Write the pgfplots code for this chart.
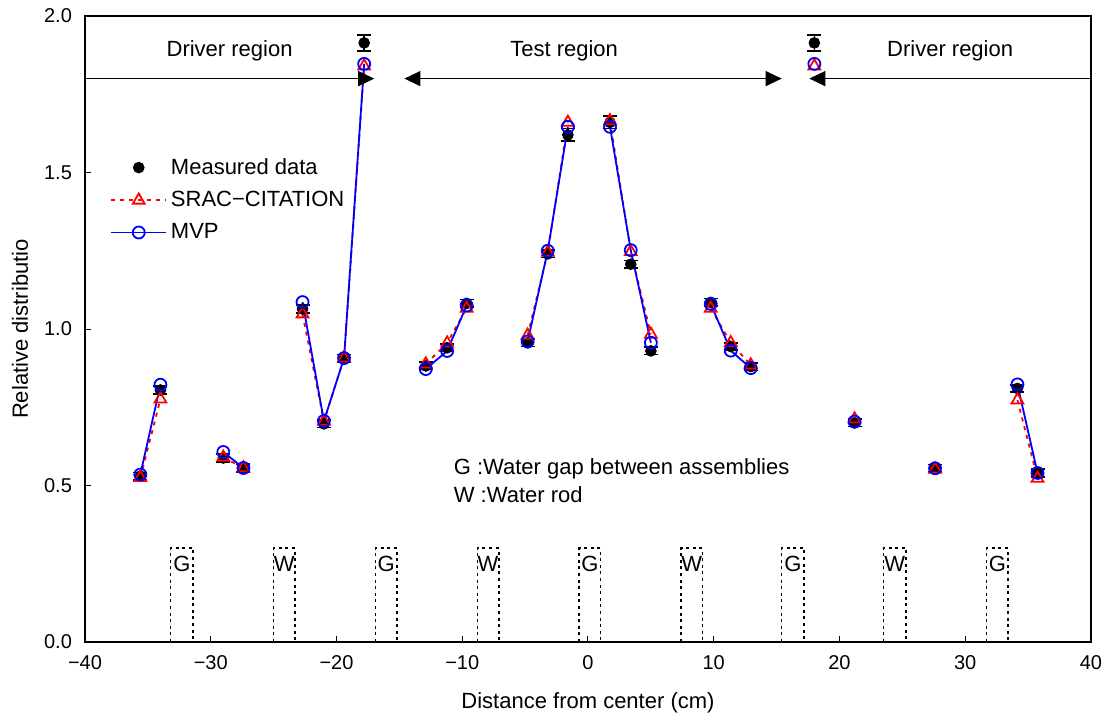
\documentclass[border=0pt]{standalone}
\usepackage{fontspec}
\setmainfont{Liberation Sans}
\usepackage{pgfplots}
\pgfplotsset{compat=1.18}
\usepackage{pgfplotstable}
\usetikzlibrary{arrows.meta}

\pgfplotstableread{
x meas err srac mvp
-35.6 0.530 0.012 0.525 0.535
-34.0 0.805 0.012 0.776 0.822
nan nan nan nan nan
-29.0 0.588 0.012 0.590 0.607
-27.4 0.556 0.012 0.556 0.556
nan nan nan nan nan
-22.7 1.064 0.012 1.048 1.086
-21.0 0.697 0.012 0.705 0.706
-19.4 0.907 0.012 0.907 0.907
-17.8 1.914 0.025 1.840 1.847
nan nan nan nan nan
-12.9 0.882 0.012 0.888 0.872
-11.2 0.940 0.012 0.955 0.930
-9.65 1.082 0.012 1.066 1.075
nan nan nan nan nan
-4.8 0.956 0.012 0.980 0.960
-3.2 1.240 0.012 1.245 1.250
-1.6 1.620 0.020 1.660 1.646
nan nan nan nan nan
1.75 1.660 0.020 1.665 1.646
3.4 1.207 0.012 1.247 1.252
5.0 0.930 0.012 0.983 0.956
nan nan nan nan nan
9.76 1.085 0.012 1.066 1.080
11.35 0.944 0.012 0.956 0.931
12.94 0.880 0.012 0.885 0.875
nan nan nan nan nan
18.0 1.914 0.025 1.840 1.847
nan nan nan nan nan
21.2 0.700 0.012 0.712 0.704
nan nan nan nan nan
27.6 0.555 0.012 0.552 0.555
nan nan nan nan nan
34.15 0.810 0.012 0.773 0.823
35.75 0.540 0.012 0.523 0.540
}\data

\begin{document}
\begin{tikzpicture}
\begin{axis}[
  scale only axis, width=503pt, height=313pt,
  xmin=-40, xmax=40, ymin=0, ymax=2,
  xtick={-40,-30,...,40},
  xticklabels={−40,−30,−20,−10,0,10,20,30,40},
  ytick={0,0.5,1,1.5,2},
  yticklabels={0.0,0.5,1.0,1.5,2.0},
  tick align=inside, tick pos=left, major tick length=3pt,
  axis line style={line width=0.8pt},
  every tick/.style={black, line width=0.5pt},
  ticklabel style={font=\fontsize{10}{12}\selectfont},
  yticklabel style={xshift=-3pt},
  xticklabel style={yshift=-3pt},
  xlabel={Distance from center (cm)},
  ylabel={Relative distributio},
  label style={font=\fontsize{11}{13}\selectfont},
  xlabel style={at={(axis description cs:0.5,-0.0974)}, anchor=center},
  ylabel style={at={(axis description cs:-0.0646,0.5)}, anchor=center},
  unbounded coords=jump,
  legend image code/.code={\draw[mark repeat=2,mark phase=2] plot coordinates {(0cm,0cm) (0.48cm,0cm) (0.96cm,0cm)};},
  legend style={at={(axis description cs:0.025,0.78)}, anchor=north west, draw=none, fill=none,
    font=\fontsize{11}{13}\selectfont, row sep=3pt, inner sep=0pt},
  legend cell align=left,
  clip=false,
]
\addplot[only marks, mark=*, mark size=2.7pt, black,
  error bars/.cd, y dir=both, y explicit, error mark options={rotate=90, mark size=3.5pt, line width=0.8pt},
  error bar style={line width=0.8pt}]
  table[x=x, y=meas, y error=err] {\data};
\addlegendentry{Measured data}
\addplot[red, line width=0.9pt, dash pattern=on 2pt off 2.5pt, mark=triangle, mark size=3.4pt,
  mark options={solid, line width=0.9pt}]
  table[x=x, y=srac] {\data};
\addlegendentry{SRAC−CITATION}
\addplot[blue, line width=0.9pt, mark=o, mark size=3pt, mark options={solid, line width=0.9pt}]
  table[x=x, y=mvp] {\data};
\addlegendentry{MVP}

% region arrows
\draw[line width=0.7pt, -{Triangle[length=8pt,width=7.5pt]}] (axis cs:-40,1.8) -- (axis cs:-17.0,1.8);
\draw[line width=0.7pt, {Triangle[length=8pt,width=7.5pt]}-{Triangle[length=8pt,width=7.5pt]}] (axis cs:-14.6,1.8) -- (axis cs:15.4,1.8);
\draw[line width=0.7pt, {Triangle[length=8pt,width=7.5pt]}-] (axis cs:17.6,1.8) -- (axis cs:40,1.8);
\node[font=\fontsize{11}{13}\selectfont] at (axis cs:-28.5,1.89) {Driver region};
\node[font=\fontsize{11}{13}\selectfont] at (axis cs:-1.9,1.89) {Test region};
\node[font=\fontsize{11}{13}\selectfont] at (axis cs:28.8,1.89) {Driver region};

% annotations
\node[font=\fontsize{11}{13}\selectfont, anchor=west, inner sep=0pt] at (axis cs:-10.7,0.553) {G :Water gap between assemblies};
\node[font=\fontsize{11}{13}\selectfont, anchor=west, inner sep=0pt] at (axis cs:-10.7,0.470) {W :Water rod};

% G / W boxes
\tikzset{gw/.style={line width=0.8pt, dash pattern=on 1.5pt off 1.8pt}}
\draw[gw] (axis cs:-33.2,0) -- (axis cs:-33.2,0.3) -- (axis cs:-31.4,0.3) -- (axis cs:-31.4,0);
\draw[gw] (axis cs:-25.0,0) -- (axis cs:-25.0,0.3) -- (axis cs:-23.3,0.3) -- (axis cs:-23.3,0);
\draw[gw] (axis cs:-16.9,0) -- (axis cs:-16.9,0.3) -- (axis cs:-15.2,0.3) -- (axis cs:-15.2,0);
\draw[gw] (axis cs:-8.8,0) -- (axis cs:-8.8,0.3) -- (axis cs:-7.1,0.3) -- (axis cs:-7.1,0);
\draw[gw] (axis cs:-0.7,0) -- (axis cs:-0.7,0.3) -- (axis cs:1.0,0.3) -- (axis cs:1.0,0);
\draw[gw] (axis cs:7.4,0) -- (axis cs:7.4,0.3) -- (axis cs:9.1,0.3) -- (axis cs:9.1,0);
\draw[gw] (axis cs:15.4,0) -- (axis cs:15.4,0.3) -- (axis cs:17.2,0.3) -- (axis cs:17.2,0);
\draw[gw] (axis cs:23.5,0) -- (axis cs:23.5,0.3) -- (axis cs:25.3,0.3) -- (axis cs:25.3,0);
\draw[gw] (axis cs:31.7,0) -- (axis cs:31.7,0.3) -- (axis cs:33.4,0.3) -- (axis cs:33.4,0);
\begin{scope}[every node/.style={font=\fontsize{11}{13}\selectfont}]
\node at (axis cs:-32.3,0.25) {G};
\node at (axis cs:-24.15,0.25) {W};
\node at (axis cs:-16.05,0.25) {G};
\node at (axis cs:-7.95,0.25) {W};
\node at (axis cs:0.15,0.25) {G};
\node at (axis cs:8.25,0.25) {W};
\node at (axis cs:16.3,0.25) {G};
\node at (axis cs:24.4,0.25) {W};
\node at (axis cs:32.55,0.25) {G};
\end{scope}
\end{axis}
\pgfresetboundingbox
\path (-42.5pt,-38.5pt) rectangle (513pt,321pt);
\end{tikzpicture}
\end{document}
